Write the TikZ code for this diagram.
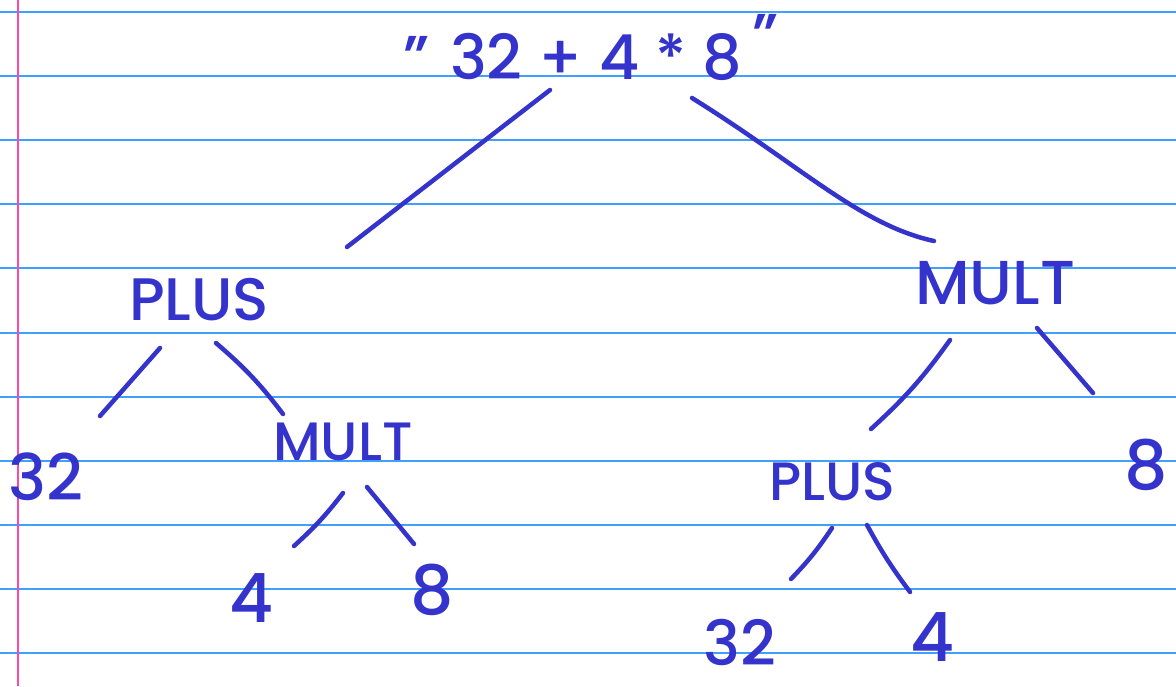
\documentclass[tikz,border=0pt]{standalone}
\usepackage{fontspec}
\setmainfont{Poppins Medium}
\usetikzlibrary{calc}
\definecolor{ink}{RGB}{52,52,204}
\definecolor{ruling}{RGB}{64,160,255}
\definecolor{marginline}{RGB}{255,72,168}
\begin{document}
\begin{tikzpicture}[x=1pt,y=-1pt,
  lbl/.style={text=ink, inner sep=0pt, font=\fontsize{#1}{#1}\selectfont},
  lbl/.default=58,
  edge/.style={draw=ink, line width=4.5pt, line cap=round, line join=round}]

% lined paper
\useasboundingbox (0,0) rectangle (1176,686);
\fill[white] (0,0) rectangle (1176,686);
\foreach \k in {0,...,10}
  \draw[ruling, line width=2pt] (0,{12.3+64.04*\k}) -- (1176,{12.3+64.04*\k});
\draw[marginline, line width=2.5pt] (18,0) -- (18,686);

% parse tree labels
\node[lbl=62] (expr) at (591,48) {"\,\,32 + 4 * 8\,\raisebox{22pt}{"}};
\node[lbl=60] (plusL) at (199,300) {PLUS};
\node[lbl=62] (multR) at (995,283) {MULT};
\node[lbl=64] (n32a) at (46,477) {32};
\node[lbl=54] (multL) at (343,442) {MULT};
\node[lbl=68] (n4a) at (251,598) {4};
\node[lbl=68] (n8a) at (432,590) {8};
\node[lbl=54] (plusR) at (832,482) {PLUS};
\node[lbl=68] (n8b) at (1146,465) {8};
\node[lbl=62] (n32b) at (740,642) {32};
\node[lbl=68] (n4b) at (932,637) {4};

% branches
\draw[edge] ($(expr)+(-41,42)$) -- ($(plusL)+(148,-53)$);
\draw[edge] ($(expr)+(101,50)$) .. controls +(108,67) and +(-74,-16) .. ($(multR)+(-61,-42)$);
\draw[edge] ($(plusL)+(-39,48)$) -- ($(n32a)+(54,-61)$);
\draw[edge] ($(plusL)+(17,43)$) to[bend left=6] ($(multL)+(-60,-28)$);
\draw[edge] ($(multR)+(-45,57)$) to[bend left=6] ($(plusR)+(39,-53)$);
\draw[edge] ($(multR)+(42,45)$) -- ($(n8b)+(-53,-72)$);
\draw[edge] ($(multL)+(0,51)$) to[bend left=5] ($(n4a)+(43,-52)$);
\draw[edge] ($(multL)+(24,45)$) -- ($(n8a)+(-18,-46)$);
\draw[edge] ($(plusR)+(0,46)$) to[bend left=5] ($(n32b)+(51,-63)$);
\draw[edge] ($(plusR)+(35,43)$) to[bend right=4] ($(n4b)+(-22,-45)$);
\end{tikzpicture}
\end{document}
